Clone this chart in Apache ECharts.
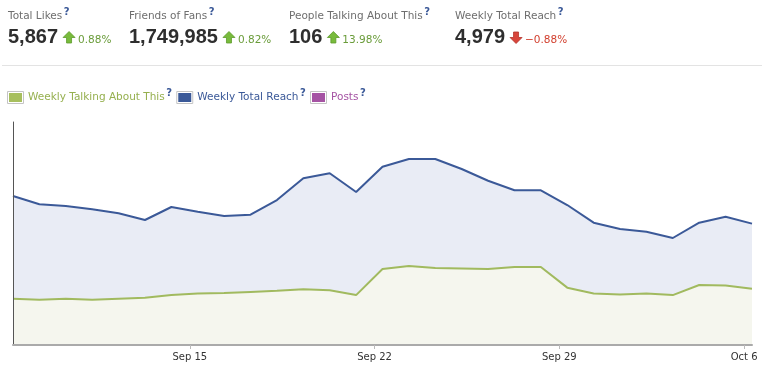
<!DOCTYPE html>
<html><head><meta charset="utf-8">
<script src="https://cdn.jsdelivr.net/npm/echarts@6/dist/echarts.min.js"></script>
<style>html,body{margin:0;padding:0;background:#fff}#c{width:764px;height:375px}</style>
</head><body><div id="c"></div>
<script>
// ---- data ----
const dates = ['Sep 8','Sep 9','Sep 10','Sep 11','Sep 12','Sep 13','Sep 14','Sep 15','Sep 16','Sep 17','Sep 18','Sep 19','Sep 20','Sep 21','Sep 22','Sep 23','Sep 24','Sep 25','Sep 26','Sep 27','Sep 28','Sep 29','Sep 30','Oct 1','Oct 2','Oct 3','Oct 4','Oct 5','Oct 6'];
const weeklyTotalReach = [6114,5773,5703,5568,5404,5129,5662,5469,5293,5346,5949,6840,7045,6278,7316,7632,7632,7221,6741,6347,6347,5744,5018,4759,4649,4390,5018,5264,4979];
const weeklyTalkingAbout = [87,85,87,85,87,89,94,97,98,100,102,105,103,94,143,149,145,144,143,147,147,108,97,95,97,94,113,112,106];
const posts = [];
const tickDays = [7,14,21,28];
const tickLabels = ['Sep 15','Sep 22','Sep 29','Oct 6'];
const headerStats = [
  {label:'Total Likes', value:'5,867', pct:'0.88%', up:true},
  {label:'Friends of Fans', value:'1,749,985', pct:'0.82%', up:true},
  {label:'People Talking About This', value:'106', pct:'13.98%', up:true},
  {label:'Weekly Total Reach', value:'4,979', pct:'\u22120.88%', up:false}
];
const legendItems = [
  {name:'Weekly Talking About This', color:'#a7bf5e', text:'#96b04f'},
  {name:'Weekly Total Reach', color:'#3b5998', text:'#3b5998'},
  {name:'Posts', color:'#a553a3', text:'#a553a3'}
];
// time-of-day offset of each daily point (fraction of a day)
const pointOffset = 0.3;

// ---- layout helpers ----
const cv = document.createElement('canvas').getContext('2d');
function tw(t, font){ cv.font = font; return cv.measureText(t).width; }
const SMALL = '10.5px "DejaVu Sans"';
const BIG = 'bold 20px "Liberation Sans"';
const headerX = [8,129,289,455];
const g = [];
headerStats.forEach((s,i)=>{
  const x = headerX[i];
  g.push({type:'text', x:x, y:16, style:{text:s.label, font:SMALL, fill:'#6e6e6e', verticalAlign:'middle'}});
  g.push({type:'text', x:x+tw(s.label,SMALL)+1.5, y:12.5, style:{text:'?', font:'bold 10px "DejaVu Sans"', fill:'#3b5998', verticalAlign:'middle'}});
  g.push({type:'text', x:x, y:37, style:{text:s.value, font:BIG, fill:'#2e2e2e', verticalAlign:'middle'}});
  const ax = x + tw(s.value,BIG) + 5;
  const pts = s.up
    ? [[ax+6,31.5],[ax+12,37.5],[ax+8.5,37.5],[ax+8.5,43],[ax+3.5,43],[ax+3.5,37.5],[ax,37.5]]
    : [[ax+6,43.5],[ax+12,37.5],[ax+8.5,37.5],[ax+8.5,32],[ax+3.5,32],[ax+3.5,37.5],[ax,37.5]];
  g.push({type:'polygon', shape:{points:pts}, style:{fill:s.up?'#78bb3c':'#d8453b', stroke:s.up?'#5d9a2b':'#b3322a', lineWidth:0.8}});
  g.push({type:'text', x:ax+15, y:40, style:{text:s.pct, font:SMALL, fill:s.up?'#6a9c3a':'#d2402f', verticalAlign:'middle'}});
});
g.push({type:'line', shape:{x1:2,y1:65.5,x2:762,y2:65.5}, style:{stroke:'#e3e3e3', lineWidth:1}});
let lx = 7;
legendItems.forEach(it=>{
  g.push({type:'rect', shape:{x:lx+0.5,y:91.5,width:16,height:12}, style:{fill:'#fff', stroke:'#c4c4c4', lineWidth:1}});
  g.push({type:'rect', shape:{x:lx+2,y:93,width:13,height:9}, style:{fill:it.color}});
  const tx = lx + 21;
  g.push({type:'text', x:tx, y:97.5, style:{text:it.name, font:SMALL, fill:it.text, verticalAlign:'middle'}});
  const qx = tx + tw(it.name,SMALL) + 1.5;
  g.push({type:'text', x:qx, y:93.5, style:{text:'?', font:'bold 10px "DejaVu Sans"', fill:'#3b5998', verticalAlign:'middle'}});
  lx = qx + 10;
});

const reachData = weeklyTotalReach.map((v,i)=>[i+pointOffset, v]);
const talkData = weeklyTalkingAbout.map((v,i)=>[i+pointOffset, v]);

const chart = echarts.init(document.getElementById('c'), null, {renderer:'canvas'});
chart.setOption({
  animation:false,
  backgroundColor:'#fff',
  grid:{left:13, right:12, top:122, bottom:30},
  xAxis:{
    type:'value', min:pointOffset, max:dates.length-1+pointOffset, z:10,
    axisLine:{onZero:false, lineStyle:{color:'#aaaaaa', width:2}},
    axisTick:{show:true, customValues:tickDays, length:4, lineStyle:{color:'#bbbbbb', width:1}},
    axisLabel:{customValues:tickDays, formatter:v=>tickLabels[tickDays.indexOf(Math.round(v))], color:'#333', fontSize:10, fontFamily:'DejaVu Sans', margin:7},
    splitLine:{show:false}
  },
  yAxis:[
    {type:'value', min:0, max:9150, z:10, axisLine:{show:true, onZero:false, lineStyle:{color:'#555', width:1}}, axisTick:{show:false}, axisLabel:{show:false}, splitLine:{show:false}},
    {type:'value', min:0, max:420, show:false, splitLine:{show:false}}
  ],
  graphic:g,
  series:[
    {name:'Weekly Total Reach', type:'line', yAxisIndex:0, data:reachData, symbol:'none', z:2,
     lineStyle:{color:'#3b5998', width:2}, areaStyle:{color:'#e9ecf5', opacity:1}},
    {name:'Weekly Talking About This', type:'line', yAxisIndex:1, data:talkData, symbol:'none', z:3,
     lineStyle:{color:'#a1ba5f', width:2}, areaStyle:{color:'#f5f6ee', opacity:1}},
    {name:'Posts', type:'line', data:posts, symbol:'none'}
  ]
});
</script></body></html>
